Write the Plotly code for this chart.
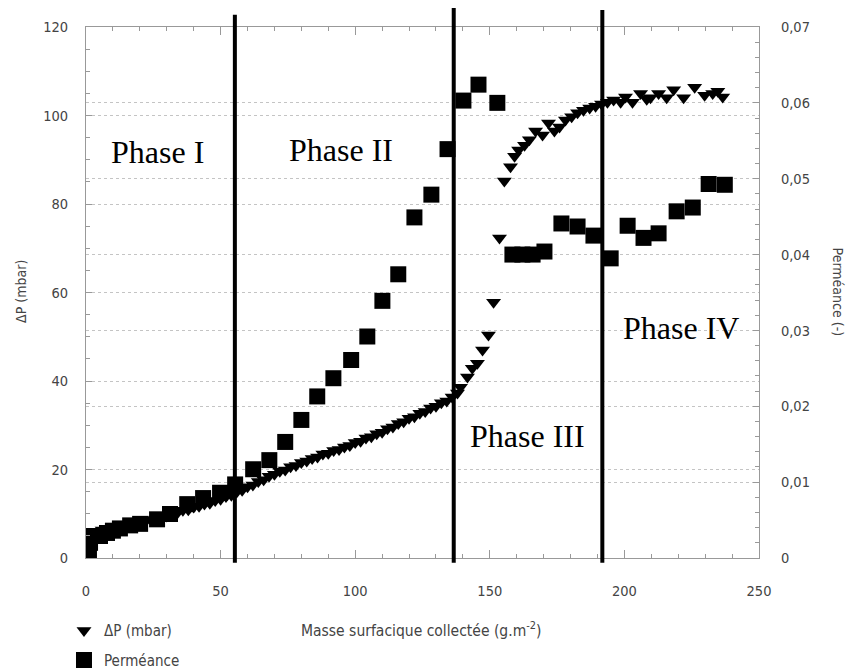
import plotly.graph_objects as go

# Delta P (mbar) readings, triangles, left axis
dp_x = [0, 1, 2, 3, 4, 6, 8, 10, 12, 14, 16, 18, 20, 22, 24, 26, 28, 30, 32, 34,
        36, 38, 40, 42, 44, 46, 48, 50, 52, 54, 56, 58, 60, 62, 64, 66, 68, 70, 72, 74,
        76, 78, 80, 82, 84, 86, 88, 90, 92, 94, 96, 98, 100, 102, 104, 106, 108, 110, 112, 114,
        116, 118, 120, 122, 124, 126, 128, 130, 132, 134, 136, 138,
        139.1, 141.7, 143.5, 145.4, 147.3, 149.5, 151.4, 153.6, 155.4, 157.7, 159.2, 160.7,
        162.9, 164.7, 167.0, 169.6, 171.8, 174.0, 175.9, 178.1, 180.4, 182.6, 184.8, 187.1,
        189.3, 191.5, 193.7, 196.0, 198.6, 200.4, 203.0, 206.0, 208.3, 209.7, 212.7, 215.7,
        218.3, 222.0, 226.1, 229.8, 232.8, 234.7, 236.5]
dp_y = [5.6, 5.7, 5.9, 5.8, 6.0, 6.3, 6.3, 6.7, 6.8, 7.2, 7.3, 7.8, 8.0, 8.2, 8.7, 8.8, 9.3, 9.5, 10.0, 10.2,
        10.8, 10.9, 11.5, 11.7, 12.2, 12.4, 13.0, 13.3, 13.9, 14.2, 14.9, 15.3, 16.1, 16.5, 17.3, 17.7, 18.5, 18.9, 19.6, 19.9,
        20.6, 20.9, 21.6, 21.9, 22.5, 22.8, 23.5, 23.7, 24.3, 24.5, 25.1, 25.4, 26.1, 26.4, 27.1, 27.4, 28.1, 28.4, 29.2, 29.6,
        30.4, 30.8, 31.6, 31.9, 32.7, 33.1, 33.9, 34.3, 35.1, 35.5, 36.4, 37.3,
        38.6, 40.9, 42.9, 44.0, 47.0, 50.4, 57.8, 72.3, 85.2, 88.4, 90.8, 92.2,
        93.3, 94.5, 96.5, 95.6, 98.3, 96.5, 97.4, 99.0, 99.7, 100.6, 101.2, 101.7,
        102.1, 102.6, 103.0, 103.5, 103.0, 104.2, 103.0, 105.0, 103.7, 104.0, 105.0, 104.0,
        105.8, 104.0, 106.4, 104.6, 105.0, 105.5, 104.2]

# Permeance readings, squares, right axis
perm_x = [0.7, 1.1, 1.5, 2.2, 5.2, 7.8, 10.0, 12.6, 16.4, 20.1, 26.4, 31.2, 37.6, 43.5,
          49.8, 55.4, 62.1, 68.1, 74.0, 80.0, 85.9, 91.9, 98.5, 104.5, 110.1, 116.0,
          122.0, 128.3, 134.3, 140.2, 145.8, 152.8, 158.4, 162.1, 165.9, 170.3, 176.6,
          182.6, 188.5, 194.9, 201.2, 207.1, 212.7, 219.4, 225.4, 231.3, 237.3]
perm_y = [0.0001, 0.0009, 0.0020, 0.0029, 0.0029, 0.0033, 0.0036, 0.0039, 0.0043, 0.0045,
          0.0051, 0.0058, 0.0071, 0.0079, 0.0086, 0.0097, 0.0117, 0.0129, 0.0153, 0.0182,
          0.0213, 0.0237, 0.0261, 0.0292, 0.0339, 0.0374, 0.0449, 0.0479, 0.0539, 0.0603,
          0.0624, 0.0600, 0.0400, 0.0400, 0.0400, 0.0404, 0.0441, 0.0437, 0.0425, 0.0395,
          0.0438, 0.0422, 0.0428, 0.0457, 0.0462, 0.0493, 0.0492]

phase_bounds = [55.3, 136.6, 191.8]
phase_tops = [1.023, 1.036, 1.032]
phase_labels = ["Phase I", "Phase II", "Phase III", "Phase IV"]
phase_pos = [(26.4, 91.7), (94.8, 92.2), (164.0, 27.5), (220.9, 52.0)]

font_fam = "DejaVu Sans Condensed, Liberation Sans Narrow, Roboto, sans-serif"
tick_font = dict(family=font_fam, size=14.5, color="#444")
label_font = dict(family=font_fam, size=14, color="#444")
grid_col = "#c4c4c4"
axis_col = "#999"

fig = go.Figure()
fig.add_trace(go.Scatter(
    x=perm_x, y=perm_y, yaxis="y2", mode="markers", name="Perméance",
    legendgroup="b", legendrank=2,
    marker=dict(symbol="square", size=16, color="black"),
))
fig.add_trace(go.Scatter(
    x=dp_x, y=dp_y, mode="markers", name="ΔP (mbar)",
    legendgroup="a", legendrank=1,
    marker=dict(symbol="triangle-down", size=13, color="black"),
))

for xb, top in zip(phase_bounds, phase_tops):
    fig.add_shape(type="line", xref="x", yref="paper", x0=xb, x1=xb,
                  y0=-0.009, y1=top, line=dict(color="black", width=4))

for lab, (px, py) in zip(phase_labels, phase_pos):
    fig.add_annotation(x=px, y=py, xref="x", yref="y", text=lab, showarrow=False,
                       font=dict(family="Liberation Serif, Times New Roman, serif",
                                 size=32, color="black"))

fig.add_annotation(x=0.498, y=-0.134, xref="paper", yref="paper", showarrow=False,
                   xanchor="center", yanchor="middle",
                   text="Masse surfacique collectée (g.m<sup>-2</sup>)",
                   font=dict(family=font_fam, size=15.5, color="#444"))
fig.add_annotation(x=-0.0966, y=0.503, xref="paper", yref="paper", showarrow=False,
                   xanchor="center", yanchor="middle",
                   text="ΔP (mbar)", textangle=-90, font=label_font)
fig.add_annotation(x=1.118, y=0.501, xref="paper", yref="paper", showarrow=False,
                   xanchor="center", yanchor="middle",
                   text="Perméance (-)", textangle=90, font=label_font)

fig.update_layout(
    width=846, height=662,
    margin=dict(l=78, r=95, t=19, b=112, autoexpand=False),
    paper_bgcolor="white", plot_bgcolor="white",
    separators=", ",
    showlegend=True,
    legend=dict(x=-0.0327, y=-0.106, xanchor="left", yanchor="top",
                traceorder="grouped", tracegroupgap=7,
                font=dict(family=font_fam, size=15, color="#444"),
                bgcolor="rgba(0,0,0,0)"),
    xaxis=dict(range=[0, 250], dtick=50, tickfont=tick_font, showgrid=False,
               showline=True, linecolor=axis_col, linewidth=1, mirror="ticks",
               ticks="inside", ticklen=8, tickcolor=axis_col, ticklabelstandoff=20,
               minor=dict(dtick=10, ticks="inside", ticklen=4, tickcolor=axis_col),
               zeroline=False),
    yaxis=dict(range=[0, 120], dtick=20, tickfont=tick_font,
               showgrid=True, gridcolor=grid_col, griddash="dot", gridwidth=1,
               showline=True, linecolor=axis_col, linewidth=1,
               ticks="inside", ticklen=6, tickcolor=axis_col, ticklabelstandoff=14,
               minor=dict(dtick=5, ticks="inside", ticklen=4, tickcolor=axis_col),
               zeroline=False),
    yaxis2=dict(range=[0, 0.07], dtick=0.01, tickfont=tick_font, overlaying="y",
                side="right", showgrid=True, gridcolor=grid_col, griddash="dot",
                gridwidth=1, showline=True, linecolor=axis_col, linewidth=1,
                ticks="inside", ticklen=6, tickcolor=axis_col, ticklabelstandoff=18,
                minor=dict(dtick=0.002, ticks="inside", ticklen=4, tickcolor=axis_col),
                zeroline=False),
)

fig.write_html("out.html")
